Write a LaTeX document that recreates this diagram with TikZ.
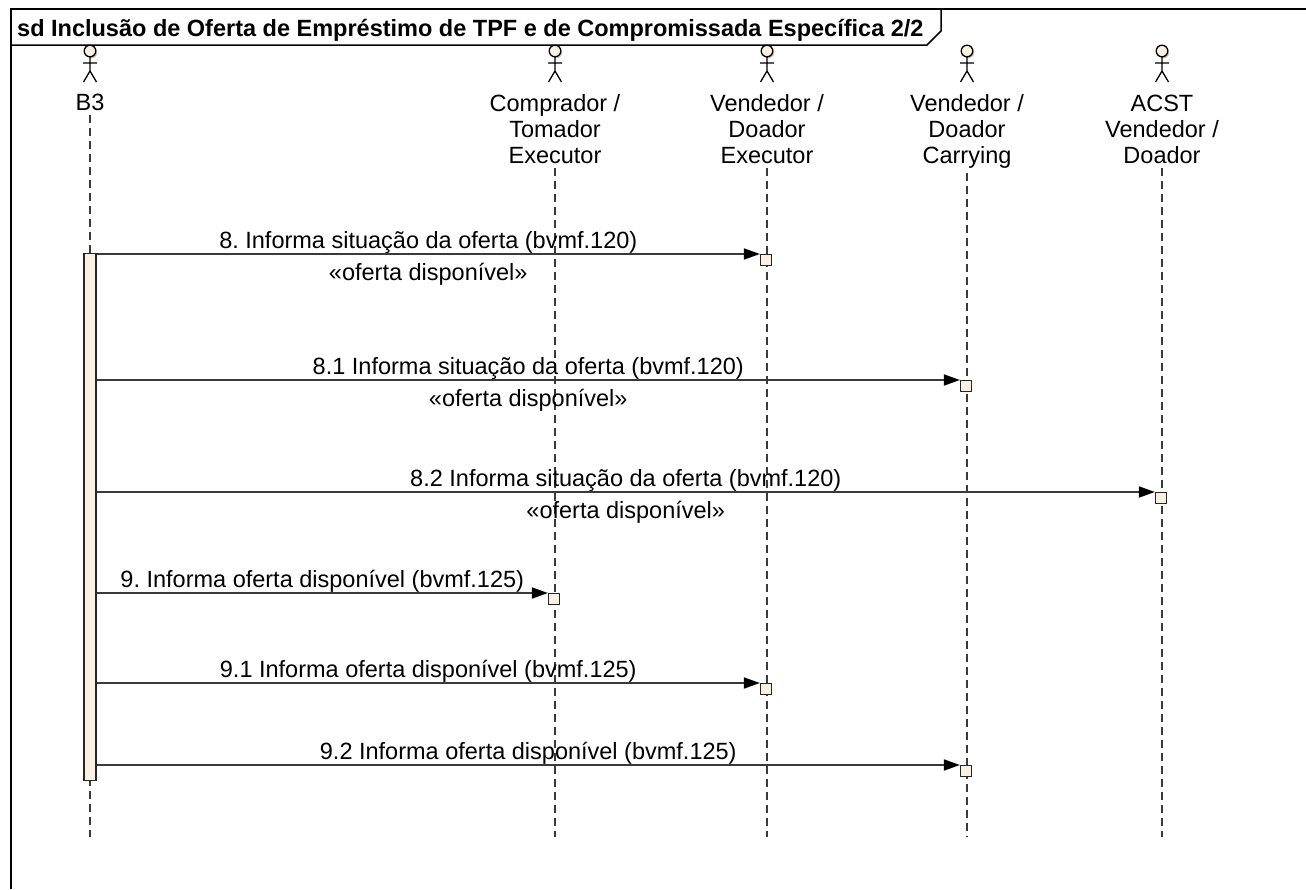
\documentclass[tikz,border=0pt]{standalone}
\usepackage{fontspec}
\setmainfont{Liberation Sans}
\usetikzlibrary{arrows.meta}
\definecolor{actfill}{HTML}{FBF1E3}
\definecolor{linec}{HTML}{3A3A3A}
\frenchspacing
\begin{document}
\frenchspacing
\begin{tikzpicture}[x=1pt,y=-1pt,
  font=\fontsize{23.5}{26}\selectfont,
  actorlabel/.style={align=center, anchor=base, inner sep=0pt},
  lifeline/.style={draw=linec, line width=1.2pt, dash pattern=on 8pt off 5pt},
  msg/.style={draw=linec, line width=1.8pt, -{Triangle[length=16pt,width=11pt,color=black]}},
  actbar/.style={draw=black!85, fill=actfill, line width=1.2pt, inner sep=0pt},
  actsq/.style={draw=black!85, fill=actfill, line width=1.2pt, inner sep=0pt, minimum size=11pt, anchor=north},
  msglabel/.style={midway, anchor=base, inner sep=0pt, yshift=6pt},
  msgnote/.style={midway, anchor=base, inner sep=0pt, yshift=-26pt},
  framel/.style={draw=black, line width=1.5pt}]
\useasboundingbox (0,0) rectangle (1306,889);
% frame
\draw[framel] (1306,9) -- (11,9) -- (11,889);
\draw[framel] (11,45) -- (927,45) -- (941,31) -- (941,9);
\node[anchor=base west, inner sep=0pt, font=\fontsize{23.5}{26}\selectfont\bfseries] (title) at (17,36) {sd Inclusão de Oferta de Empréstimo de TPF e de Compromissada Específica 2/2};
% actors
\foreach \x in {90,555,767,967,1162} {
  \fill[gray!45] (\x+1.5,52.5) circle (5.8);
  \draw[fill=actfill, line width=1.3pt] (\x,51) circle (5.8);
  \draw[line width=1.3pt] (\x,56.8) -- (\x,71) (\x-7,63) -- (\x+7,63) (\x-6.5,82) -- (\x,71) -- (\x+6.5,82);
}
\node[actorlabel] (b3) at (90,110) {B3};
\node[actorlabel] (comp) at (555,163) {Comprador /\\Tomador\\Executor};
\node[actorlabel] (vexe) at (767,163) {Vendedor /\\Doador\\Executor};
\node[actorlabel] (vcar) at (967,163) {Vendedor /\\Doador\\Carrying};
\node[actorlabel] (acst) at (1162,163) {ACST\\Vendedor /\\Doador};
% lifelines
\foreach \n in {b3,comp,vexe,vcar,acst} {
  \draw[lifeline] ([yshift=-5pt]\n.south) -- (\n.south |- 0,837);
}
% activation bar
\node[actbar, minimum width=12pt, minimum height=527pt, anchor=north] (bar) at (90,253) {};
% target activations
\node[actsq] (s8) at (766,254) {};
\node[actsq] (s81) at (966,380) {};
\node[actsq] (s82) at (1161,492) {};
\node[actsq] (s9) at (554,593) {};
\node[actsq] (s91) at (766,683) {};
\node[actsq] (s92) at (966,765) {};
% messages
\draw[msg] (bar.east |- s8.north west) -- (s8.north west)
  node[msglabel] {8. Informa situação da oferta (bvmf.120)}
  node[msgnote] {«oferta disponível»};
\draw[msg] (bar.east |- s81.north west) -- (s81.north west)
  node[msglabel] {8.1 Informa situação da oferta (bvmf.120)}
  node[msgnote] {«oferta disponível»};
\draw[msg] (bar.east |- s82.north west) -- (s82.north west)
  node[msglabel] {8.2 Informa situação da oferta (bvmf.120)}
  node[msgnote] {«oferta disponível»};
\draw[msg] (bar.east |- s9.north west) -- (s9.north west)
  node[msglabel] {9. Informa oferta disponível (bvmf.125)};
\draw[msg] (bar.east |- s91.north west) -- (s91.north west)
  node[msglabel] {9.1 Informa oferta disponível (bvmf.125)};
\draw[msg] (bar.east |- s92.north west) -- (s92.north west)
  node[msglabel] {9.2 Informa oferta disponível (bvmf.125)};
\end{tikzpicture}
\end{document}
